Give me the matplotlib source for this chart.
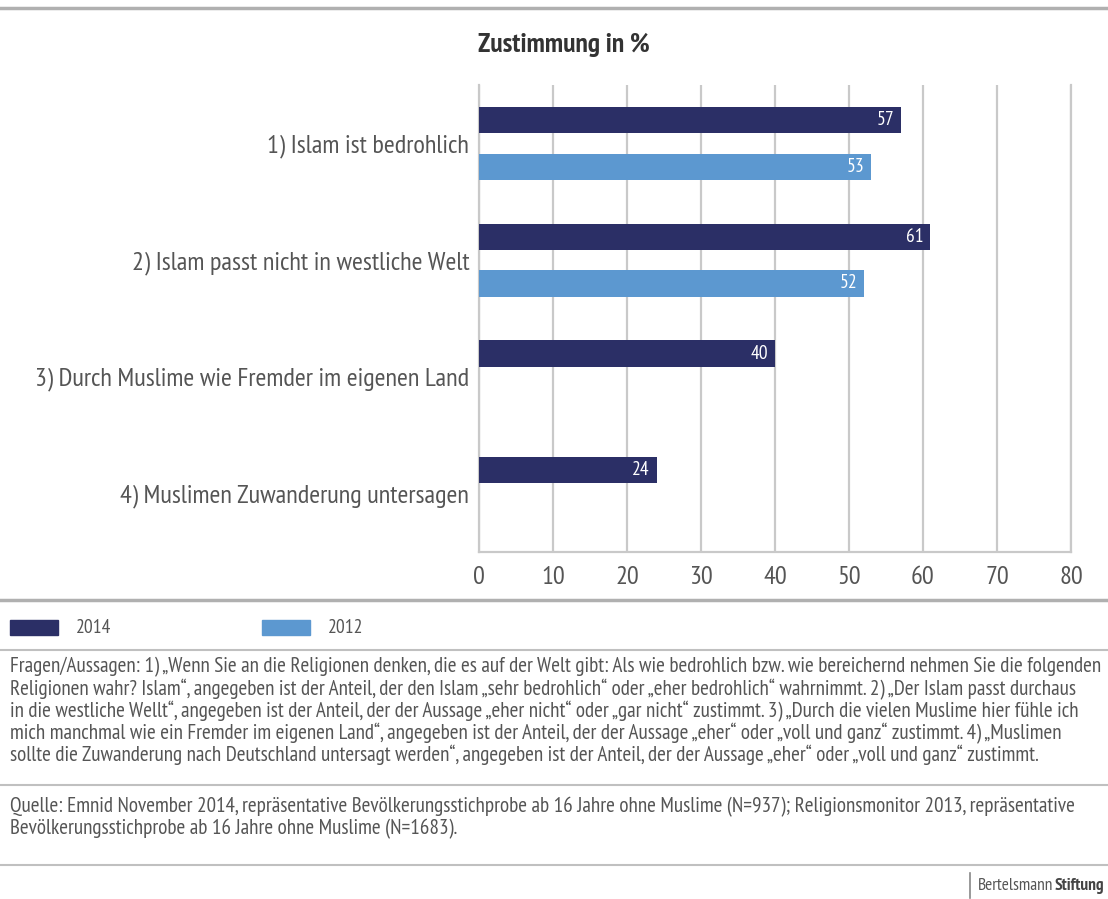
import matplotlib
matplotlib.use("Agg")
import matplotlib.pyplot as plt
from matplotlib import font_manager as fm
from matplotlib.patches import Rectangle
from matplotlib.lines import Line2D

names = {f.name for f in fm.fontManager.ttflist}
FONT = "PT Sans Narrow" if "PT Sans Narrow" in names else "DejaVu Sans"
plt.rcParams["font.family"] = [FONT, "DejaVu Sans"]

categories = [
    "1) Islam ist bedrohlich",
    "2) Islam passt nicht in westliche Welt",
    "3) Durch Muslime wie Fremder im eigenen Land",
    "4) Muslimen Zuwanderung untersagen",
]
values_2014 = [57, 61, 40, 24]
values_2012 = [53, 52, None, None]
series_names = ["2014", "2012"]
x_ticks = [0, 10, 20, 30, 40, 50, 60, 70, 80]

title = "Zustimmung in %"
footnote = [
    "Fragen/Aussagen: 1) „Wenn Sie an die Religionen denken, die es auf der Welt gibt: Als wie bedrohlich bzw. wie bereichernd nehmen Sie die folgenden",
    "Religionen wahr? Islam“, angegeben ist der Anteil, der den Islam „sehr bedrohlich“ oder „eher bedrohlich“ wahrnimmt. 2) „Der Islam passt durchaus",
    "in die westliche Wellt“, angegeben ist der Anteil, der der Aussage „eher nicht“ oder „gar nicht“ zustimmt. 3) „Durch die vielen Muslime hier fühle ich",
    "mich manchmal wie ein Fremder im eigenen Land“, angegeben ist der Anteil, der der Aussage „eher“ oder „voll und ganz“ zustimmt. 4) „Muslimen",
    "sollte die Zuwanderung nach Deutschland untersagt werden“, angegeben ist der Anteil, der der Aussage „eher“ oder „voll und ganz“ zustimmt.",
]
source = [
    "Quelle: Emnid November 2014, repräsentative Bevölkerungsstichprobe ab 16 Jahre ohne Muslime (N=937); Religionsmonitor 2013, repräsentative",
    "Bevölkerungsstichprobe ab 16 Jahre ohne Muslime (N=1683).",
]
logo = ("Bertelsmann", "Stiftung")

DARK = "#2b2f66"
LIGHT = "#5c98d0"
GRID = "#c9c9c9"
TEXT = "#555555"
W, H = 1108, 899

fig = plt.figure(figsize=(W / 100, H / 100), dpi=100)
fig.patch.set_facecolor("white")
renderer = fig.canvas.get_renderer()

def fx(px):
    return px / W

def fy(py):
    return 1 - py / H

def text_width(s, size, weight="normal"):
    t = fig.text(0, 0, s, fontsize=size, fontweight=weight)
    w = t.get_window_extent(renderer).width
    t.remove()
    return w

def fit_size(s, target_px, weight="normal"):
    return 10 * target_px / text_width(s, 10, weight)

ax = fig.add_axes([fx(479), fy(552), fx(1071) - fx(479), fy(85) - fy(552)])
ax.set_xlim(0, 80)
ax.set_ylim(3.5, -0.5)

bh = 0.225
off = 0.2
for i, (v14, v12) in enumerate(zip(values_2014, values_2012)):
    ax.barh(i - off, v14, height=bh, color=DARK, zorder=3)
    ax.text(v14 - 0.9, i - off, str(v14), color="white", ha="right", va="center",
            fontsize=14, zorder=4)
    if v12 is not None:
        ax.barh(i + off, v12, height=bh, color=LIGHT, zorder=3)
        ax.text(v12 - 0.9, i + off, str(v12), color="white", ha="right", va="center",
                fontsize=14, zorder=4)

ylab_size = fit_size(categories[2], 437)
ax.set_xticks(x_ticks)
ax.set_xticklabels([str(t) for t in x_ticks], fontsize=ylab_size, color=TEXT)
ax.set_yticks(range(len(categories)))
ax.set_yticklabels(categories, fontsize=ylab_size, color=TEXT)
ax.tick_params(axis="both", length=0)
ax.tick_params(axis="x", pad=10)
ax.tick_params(axis="y", pad=7)
ax.grid(axis="x", color=GRID, linewidth=1.6, zorder=0)
ax.set_axisbelow(True)
ax.spines["top"].set_visible(False)
for s in ["left", "right", "bottom"]:
    ax.spines[s].set_color(GRID)
    ax.spines[s].set_linewidth(1.6)

# title
fig.text(fx(564), fy(45), title, ha="center", va="center",
         fontsize=fit_size(title, 172, "bold"), fontweight="bold", color="#333333")

# horizontal rules
def hline(py, lw, color="#b0b0b0"):
    fig.add_artist(Line2D([0, 1], [fy(py), fy(py)], color=color, linewidth=lw,
                          transform=fig.transFigure))

hline(8, 2.5)
hline(600, 2.5)
hline(650, 1.5, "#c0c0c0")
hline(785, 1.5, "#c0c0c0")
hline(865, 1.5, "#c0c0c0")

# legend
leg = [(10, series_names[0], DARK), (262, series_names[1], LIGHT)]
for x0, lab, col in leg:
    fig.add_artist(Rectangle((fx(x0), fy(635)), fx(48), fy(620) - fy(635),
                             color=col, transform=fig.transFigure))
    fig.text(fx(x0 + 66), fy(628), lab, ha="left", va="center", fontsize=14, color=TEXT)

# footnotes: sized so that the longest line just fits
longest = max(footnote + source, key=lambda s: text_width(s, 10))
fn_size = fit_size(longest, 1093)
for k, line in enumerate(footnote):
    fig.text(fx(10), fy(667 + 22 * k), line, ha="left", va="center", fontsize=fn_size,
             color=TEXT)
for k, line in enumerate(source):
    fig.text(fx(10), fy(807 + 22 * k), line, ha="left", va="center", fontsize=fn_size,
             color=TEXT)

# logo
logo_size = 12.5
w1 = text_width(logo[0], logo_size)
w2 = text_width(logo[1], logo_size, "bold")
x_start = W - 4 - w1 - w2 - 1
fig.add_artist(Line2D([fx(x_start - 8), fx(x_start - 8)], [fy(873), fy(898)],
                      color="#888888", linewidth=1.2, transform=fig.transFigure))
fig.text(fx(x_start), fy(886), logo[0], ha="left", va="center", fontsize=logo_size,
         color="#555555")
fig.text(fx(x_start + w1 + 1), fy(886), logo[1], ha="left", va="center",
         fontsize=logo_size, color="#444444", fontweight="bold")

fig.savefig("out.png", dpi=100, facecolor="white")
